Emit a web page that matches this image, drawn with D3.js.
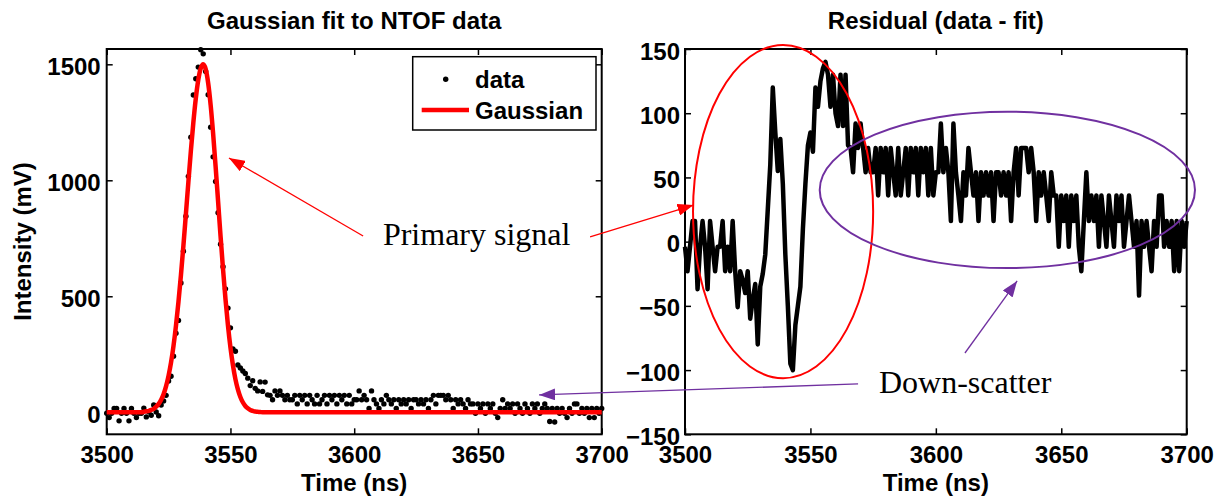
<!DOCTYPE html>
<html>
<head>
<meta charset="utf-8">
<script src="https://cdn.jsdelivr.net/npm/d3@7"></script>
<style>
  body { margin: 0; background: #fff; }
  svg { display: block; font-family: "Liberation Sans", Arial, sans-serif; }
</style>
</head>
<body>
<div id="chart"></div>
<script>
// sample grid of the scope trace (ns)
const timeNs = d3.range(3500, 3701, 1);

// measured NTOF signal (mV), one value per ns
const intensity = [
  -4, -23, -4, 16, 16, -37, -4, 16, -4, -37,
  16, -4, -23, -4, -4, 18, -20, 2, -13, 31,
  1, -15, 31, 49, 73, 135, 155, 242, 341, 396,
  557, 694, 845, 1017, 1186, 1368, 1438, 1488, 1563, 1545,
  1469, 1369, 1229, 1101, 995, 860, 724, 627, 532, 449,
  364, 273, 263, 204, 191, 178, 167, 147, 115, 136,
  103, 92, 131, 90, 130, 75, 73, 54, 92, 73,
  92, 73, 54, 73, 54, 54, 73, 36, 73, 54,
  73, 36, 73, 54, 36, 73, 36, 54, 73, 36,
  73, 54, 73, 36, 73, 54, 73, 36, 73, 36,
  54, 54, 92, 54, 73, 54, 16, 92, 54, 36,
  16, 54, 36, 73, 54, 36, 54, 16, 54, 36,
  54, 36, 54, 16, 54, 54, 36, 54, 36, 54,
  16, 54, 73, 36, 73, 73, 73, 54, 73, 54,
  16, 54, 36, 54, 36, 16, 54, 36, 36, -4,
  36, 16, 36, -4, 36, 16, 36, -4, -23, 16,
  54, 16, 36, 16, 36, -4, 36, 16, -4, 36,
  16, -4, 36, 16, 36, -4, 16, 36, 16, -40,
  16, -42, 16, -4, 16, -4, -23, 16, -4, 36,
  36, -4, 16, -4, 16, -23, 16, -23, 16, -4,
  16
];

// residual data - fit (mV), one value per ns
const residual = [
  -4, -23, -4, 16, 16, -37, -4, 16, -4, -37,
  16, -4, -23, -4, -4, 16, -23, -4, -23, 16,
  -23, -51, -23, -30, -40, -23, -60, -45, -33, -80,
  -35, -25, -10, 25, 60, 120, 85, 55, 80, 45,
  -10, -50, -95, -100, -65, -50, -35, 10, 45, 75,
  85, 70, 120, 105, 125, 135, 140, 130, 105, 130,
  100, 90, 130, 90, 130, 75, 73, 54, 92, 73,
  92, 73, 54, 73, 54, 54, 73, 36, 73, 54,
  73, 36, 73, 54, 36, 73, 36, 54, 73, 36,
  73, 54, 73, 36, 73, 54, 73, 36, 73, 36,
  54, 54, 92, 54, 73, 54, 16, 92, 54, 36,
  16, 54, 36, 73, 54, 36, 54, 16, 54, 36,
  54, 36, 54, 16, 54, 54, 36, 54, 36, 54,
  16, 54, 73, 36, 73, 73, 73, 54, 73, 54,
  16, 54, 36, 54, 36, 16, 54, 36, 36, -4,
  36, 16, 36, -4, 36, 16, 36, -4, -23, 16,
  54, 16, 36, 16, 36, -4, 36, 16, -4, 36,
  16, -4, 36, 16, 36, -4, 16, 36, 16, -4,
  16, -42, 16, -4, 16, -4, -23, 16, -4, 36,
  36, -4, 16, -4, 16, -23, 16, -23, 16, -4,
  16
];

// gaussian fit curve
const fitTime = [3500, ...d3.range(3514, 3564), 3700];
const fitValue = [
  0, 0,
  2, 4, 6, 10, 15, 24, 36, 54, 79, 113,
  158, 215, 287, 374, 476, 592, 719, 855, 992, 1126,
  1248, 1353, 1433, 1483, 1500, 1479, 1419, 1324, 1201, 1060,
  910, 759, 617, 487, 374, 279, 203, 143, 99, 66,
  43, 27, 17, 10, 6, 3, 2, 1, 0,
  0
];

const timeTicks = [3500, 3550, 3600, 3650, 3700];
const intensityTicks = [0, 500, 1000, 1500];
const residualTicks = [-150, -100, -50, 0, 50, 100, 150];

const width = 1224, height = 500;
const RED = "#ff0000", PURPLE = "#7030a0";

const svg = d3.select("#chart").append("svg")
    .attr("width", width)
    .attr("height", height);

const defs = svg.append("defs");
[["head-red", RED], ["head-purple", PURPLE]].forEach(([id, col]) => {
    defs.append("marker")
        .attr("id", id)
        .attr("viewBox", "0 0 16 12")
        .attr("refX", 16).attr("refY", 6)
        .attr("markerWidth", 16).attr("markerHeight", 12)
        .attr("markerUnits", "userSpaceOnUse")
        .attr("orient", "auto")
        .append("path")
        .attr("d", "M0,0 L16,6 L0,12 Z")
        .attr("fill", col);
});

function drawPanel(cfg) {
    const x = d3.scaleLinear().domain([3500, 3700]).range([cfg.left, cfg.right]);
    const y = d3.scaleLinear().domain(cfg.yDomain).range([cfg.bottom, cfg.top]);
    const g = svg.append("g");

    const tickStyle = sel => {
        sel.select(".domain").remove();
        sel.selectAll(".tick line").attr("stroke", "#000").attr("stroke-width", 1.5);
        sel.selectAll("text")
            .attr("fill", "#000")
            .style("font-size", "24px")
            .style("font-weight", "bold");
    };

    g.append("g")
        .attr("transform", `translate(0,${cfg.bottom})`)
        .call(d3.axisBottom(x).tickValues(timeTicks).tickSize(-6).tickPadding(12).tickFormat(d3.format("d")))
        .call(tickStyle);
    g.append("g")
        .attr("transform", `translate(0,${cfg.top})`)
        .call(d3.axisTop(x).tickValues(timeTicks).tickSize(-6).tickFormat(""))
        .call(tickStyle);
    g.append("g")
        .attr("transform", `translate(${cfg.left},0)`)
        .call(d3.axisLeft(y).tickValues(cfg.yTicks).tickSize(-6).tickPadding(cfg.labelGap).tickFormat(d3.format("d")))
        .call(tickStyle)
        .selectAll("text").attr("dy", "0.42em");
    g.append("g")
        .attr("transform", `translate(${cfg.right},0)`)
        .call(d3.axisRight(y).tickValues(cfg.yTicks).tickSize(-6).tickFormat(""))
        .call(tickStyle);

    g.append("rect")
        .attr("x", cfg.left).attr("y", cfg.top)
        .attr("width", cfg.right - cfg.left)
        .attr("height", cfg.bottom - cfg.top)
        .attr("fill", "none")
        .attr("stroke", "#000")
        .attr("stroke-width", 2);

    g.append("text")
        .attr("x", (cfg.left + cfg.right) / 2).attr("y", 29)
        .attr("text-anchor", "middle")
        .style("font-size", "24px").style("font-weight", "bold")
        .text(cfg.title);

    g.append("text")
        .attr("x", (cfg.left + cfg.right) / 2).attr("y", 491)
        .attr("text-anchor", "middle")
        .style("font-size", "24px").style("font-weight", "bold")
        .text("Time (ns)");

    return { g, x, y };
}

// left panel: data + gaussian
const fitPanel = drawPanel({
    left: 106.7, right: 601.7, top: 49, bottom: 434.3,
    yDomain: [-95, 1566], yTicks: intensityTicks, labelGap: 6,
    title: "Gaussian fit to NTOF data"
});

fitPanel.g.append("g")
    .selectAll("circle")
    .data(timeNs)
    .join("circle")
    .attr("cx", d => fitPanel.x(d))
    .attr("cy", (d, i) => fitPanel.y(intensity[i]))
    .attr("r", 2.7)
    .attr("fill", "#000");

fitPanel.g.append("path")
    .datum(fitTime.map((t, i) => [t, fitValue[i]]))
    .attr("d", d3.line()
        .x(d => fitPanel.x(d[0]))
        .y(d => fitPanel.y(d[1]))
        .curve(d3.curveMonotoneX))
    .attr("fill", "none")
    .attr("stroke", RED)
    .attr("stroke-width", 4.5);

fitPanel.g.append("text")
    .attr("transform", "translate(31,241.5) rotate(-90)")
    .attr("text-anchor", "middle")
    .style("font-size", "24px").style("font-weight", "bold")
    .text("Intensity (mV)");

// legend
const legend = svg.append("g");
legend.append("rect")
    .attr("x", 412.7).attr("y", 56.7)
    .attr("width", 183.3).attr("height", 73.3)
    .attr("fill", "#fff").attr("stroke", "#000").attr("stroke-width", 1.5);
legend.append("circle")
    .attr("cx", 445.7).attr("cy", 79.3).attr("r", 2.7).attr("fill", "#000");
legend.append("line")
    .attr("x1", 421.7).attr("x2", 469).attr("y1", 110).attr("y2", 110)
    .attr("stroke", RED).attr("stroke-width", 4.5);
legend.selectAll("text")
    .data(["data", "Gaussian"])
    .join("text")
    .attr("x", 475)
    .attr("y", (d, i) => 88 + i * 31)
    .style("font-size", "24px").style("font-weight", "bold")
    .text(d => d);

// right panel: residual
const resPanel = drawPanel({
    left: 685, right: 1186.7, top: 49, bottom: 434.3,
    yDomain: [-150, 150], yTicks: residualTicks, labelGap: 5,
    title: "Residual (data - fit)"
});

resPanel.g.append("path")
    .datum(timeNs.map((t, i) => [t, residual[i]]))
    .attr("d", d3.line()
        .x(d => resPanel.x(d[0]))
        .y(d => resPanel.y(d[1])))
    .attr("fill", "none")
    .attr("stroke", "#000")
    .attr("stroke-width", 4.5)
    .attr("stroke-linejoin", "round");

// annotations, placed in the data coordinates of the panel they point at
const at = (p, t, v) => [p.x(t), p.y(v)];
const ann = svg.append("g");

const ellipses = [
    { c: [3539.1, 23.4], rt: 35.9, rv: 129.7, col: RED },
    { c: [3628.5, 40.3], rt: 74.8, rv: 60.9, col: PURPLE }
];
ellipses.forEach(e => {
    const [cx, cy] = at(resPanel, e.c[0], e.c[1]);
    ann.append("ellipse")
        .attr("cx", cx).attr("cy", cy)
        .attr("rx", resPanel.x(3500 + e.rt) - resPanel.x(3500))
        .attr("ry", resPanel.y(0) - resPanel.y(e.rv))
        .attr("fill", "none")
        .attr("stroke", e.col)
        .attr("stroke-width", 2);
});

const arrows = [
    { from: at(fitPanel, 3603.6, 760), to: at(fitPanel, 3549.4, 1096), col: RED, head: "head-red" },
    { from: at(fitPanel, 3695.3, 755.6), to: at(resPanel, 3503.4, 28.5), col: RED, head: "head-red" },
    { from: at(resPanel, 3569.0, -110.8), to: at(fitPanel, 3674.7, 74.6), col: PURPLE, head: "head-purple" },
    { from: at(resPanel, 3611.6, -86.7), to: at(resPanel, 3632.4, -30.6), col: PURPLE, head: "head-purple" }
];
arrows.forEach(a => {
    ann.append("line")
        .attr("x1", a.from[0]).attr("y1", a.from[1])
        .attr("x2", a.to[0]).attr("y2", a.to[1])
        .attr("stroke", a.col)
        .attr("stroke-width", 1.3)
        .attr("marker-end", `url(#${a.head})`);
});

const labels = [
    { pos: at(fitPanel, 3611.6, 721), text: "Primary signal" },
    { pos: at(resPanel, 3577.3, -117.8), text: "Down-scatter" }
];
labels.forEach(l => {
    ann.append("text")
        .attr("x", l.pos[0]).attr("y", l.pos[1])
        .style("font-family", "'Liberation Serif', 'Times New Roman', serif")
        .style("font-size", "32px")
        .text(l.text);
});
</script>
</body>
</html>
